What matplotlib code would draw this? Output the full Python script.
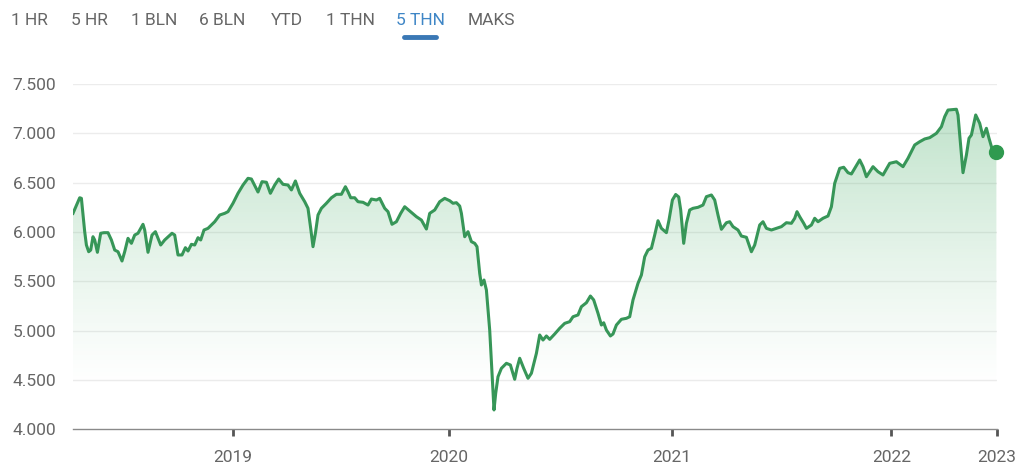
"""IDX composite, 5-year view - Google-style line chart with gradient fill."""
import matplotlib
matplotlib.use('Agg')
import matplotlib.pyplot as plt
import numpy as np
from matplotlib.colors import LinearSegmentedColormap
from matplotlib.ticker import FuncFormatter

plt.rcParams['font.family'] = ['Roboto', 'DejaVu Sans']

# Range tabs at the top
tabs = ['1 HR', '5 HR', '1 BLN', '6 BLN', 'YTD', '1 THN', '5 THN', 'MAKS']
tab_centers = [29, 89, 154.5, 222, 287, 350, 420, 491]
active_tab = '5 THN'

# Position along the time axis and index value
pos = [73.3, 80, 81.7, 85, 86.7, 89, 91, 93.3, 95, 97.7, 101, 104.3, 108.3, 111.7, 115,
       118.3, 122.3, 125, 128.3, 131.7, 135, 138.3, 143.3, 145, 148.3, 152.3, 155.7, 161,
       165, 172.3, 175, 178.3, 182.3, 185.7, 188.3, 191.7, 195, 198.3, 201, 204.3, 208.3,
       215, 220, 225, 228.3, 233.3, 238.3, 243.3, 248.3, 251.7, 258.3, 262.3, 266.7, 270.7,
       275, 279, 283.3, 288.3, 291.7, 295.7, 300, 305, 308.3, 311, 313.3, 315.7, 318.3,
       321.7, 326.7, 331.7, 336.7, 341.7, 345.7, 348.3, 351, 355, 358.3, 363.3, 368.3,
       371.7, 376.7, 380, 385, 388.3, 392.3, 396.7, 401, 405, 410, 416.7, 421.7, 426.7,
       430, 435, 440, 445, 450, 453.3, 456.7, 460, 461.7, 465, 468.3, 471.7, 475, 477.3,
       480, 481.7, 484.3, 486.7, 490, 492.7, 494.3, 496, 498.3, 501.7, 506.7, 510.7, 515,
       517.3, 520, 524, 528.3, 531.7, 536.7, 540, 543.3, 546.7, 550, 555, 560, 565, 570,
       573.3, 578.3, 581.7, 586.7, 590.7, 594, 598.3, 601.7, 604, 606.7, 610.7, 613.3,
       616.7, 621.7, 626.7, 630, 633.3, 638.3, 641.7, 645, 648.3, 651.7, 655, 658.3, 661.7,
       666.7, 669.3, 672.7, 676, 679, 681, 684, 686.7, 690, 693.3, 698.3, 703.3, 706.7,
       711.7, 715, 718.3, 721.7, 726.7, 730, 733.3, 738.3, 741.7, 746.7, 751.7, 755, 760,
       763.3, 766.7, 771.7, 776.7, 781.7, 786.7, 791.7, 795, 797.3, 800, 804, 806.7, 811.7,
       815, 818.3, 823.3, 828.3, 831.7, 835, 840, 844, 848.3, 851.7, 855, 860, 863.3, 866.7,
       873.3, 878.3, 883.3, 890, 896.7, 903.3, 908.3, 915, 920, 925, 930, 936.7, 941.7, 945,
       948.3, 956.7, 958.3, 961.7, 963.3, 966.7, 969.3, 971.7, 976, 980, 983.3, 986.7,
       989.3, 992.7, 996.7]
value = [6189, 6347, 6341, 6003, 5868, 5800, 5817, 5952, 5919, 5794, 5987, 5993, 5993, 5919,
         5817, 5800, 5706, 5800, 5936, 5885, 5969, 5987, 6078, 6020, 5794, 5969, 6003, 5868,
         5919, 5987, 5969, 5767, 5767, 5841, 5807, 5875, 5868, 5942, 5919, 6020, 6037, 6104,
         6172, 6189, 6206, 6291, 6392, 6476, 6544, 6537, 6405, 6510, 6504, 6392, 6476, 6537,
         6483, 6476, 6426, 6517, 6392, 6307, 6240, 6037, 5851, 5987, 6172, 6240, 6291, 6347,
         6382, 6382, 6459, 6408, 6347, 6347, 6307, 6301, 6273, 6334, 6324, 6341, 6240, 6206,
         6078, 6104, 6189, 6256, 6213, 6155, 6121, 6030, 6189, 6223, 6307, 6341, 6317, 6291,
         6297, 6263, 6189, 5952, 6003, 5902, 5885, 5851, 5581, 5463, 5513, 5412, 5006, 4500,
         4196, 4365, 4533, 4618, 4669, 4652, 4507, 4618, 4720, 4618, 4517, 4568, 4770, 4956,
         4905, 4946, 4912, 4966, 5024, 5074, 5091, 5141, 5159, 5243, 5283, 5351, 5311, 5176,
         5057, 5080, 5006, 4946, 4966, 5057, 5115, 5125, 5141, 5311, 5480, 5564, 5749, 5817,
         5835, 5969, 6114, 6037, 5993, 6121, 6324, 6380, 6355, 6223, 5885, 6088, 6223, 6240,
         6250, 6273, 6358, 6375, 6324, 6172, 6027, 6094, 6104, 6054, 6020, 5959, 5946, 5800,
         5868, 6071, 6104, 6037, 6020, 6037, 6054, 6094, 6088, 6139, 6206, 6155, 6088, 6037,
         6071, 6139, 6104, 6139, 6162, 6256, 6493, 6645, 6656, 6601, 6588, 6645, 6730, 6662,
         6560, 6662, 6611, 6578, 6696, 6712, 6662, 6747, 6882, 6915, 6943, 6956, 7000, 7067,
         7169, 7236, 7244, 7186, 6780, 6601, 6780, 6950, 6983, 7186, 7102, 6966, 7051, 6950,
         6831, 6814]

year_pos = [233.3, 449, 672, 891.7, 997.3]
year_labels = ['2019', '2020', '2021', '2022', '2023']
y_ticks = [4000, 4500, 5000, 5500, 6000, 6500, 7000, 7500]

LINE = '#379658'
GRID = '#ececec'
TEXT = '#666666'

x = np.array(pos)
y = np.array(value)

fig = plt.figure(figsize=(10.19, 4.69), dpi=100)
ax = fig.add_axes([73 / 1019, 1 - 429.3 / 469, 924 / 1019, (429.3 - 84) / 469])
ax.set_xlim(x[0], x[-1])
ax.set_ylim(4000, 7500)

# gradient under the line
cmap = LinearSegmentedColormap.from_list('g', [(0.30, 0.69, 0.42, 0.0), (0.30, 0.69, 0.42, 0.36)])
grad = np.linspace(0, 1, 256).reshape(-1, 1) ** 1.2
img = ax.imshow(grad, extent=[x[0], x[-1], 4400, 7300], origin='lower', cmap=cmap,
                aspect='auto', zorder=1, interpolation='bilinear')
poly = ax.fill_between(x, y, 4000, facecolor='none', edgecolor='none')
img.set_clip_path(poly.get_paths()[0], transform=ax.transData)

ax.plot(x, y, color=LINE, lw=2.2, zorder=3, solid_joinstyle='round')
ax.plot(x[-1], y[-1], 'o', color='#2f9a4f', ms=10, zorder=4, clip_on=False)

# grid, axis
for t in y_ticks[1:]:
    ax.axhline(t, color=GRID, lw=1, zorder=0)
for s in ['top', 'right', 'left']:
    ax.spines[s].set_visible(False)
ax.spines['bottom'].set_color('#8a8a8a')
ax.spines['bottom'].set_linewidth(1.0)

ax.set_yticks(y_ticks)
ax.yaxis.set_major_formatter(FuncFormatter(lambda v, p: f'{int(v):,}'.replace(',', '.')))
ax.tick_params(axis='y', length=0, pad=12, labelsize=12.5, labelcolor=TEXT)
ax.set_xticks(year_pos)
ax.set_xticklabels(year_labels)
ax.tick_params(axis='x', length=5, width=2, color='#555555', direction='out', pad=10,
               labelsize=12.5, labelcolor=TEXT)

# range tabs
for name, cx in zip(tabs, tab_centers):
    active = name == active_tab
    fig.text(cx / 1019, 1 - 20.5 / 469, name, ha='center', va='center', fontsize=12.5,
             color='#3f86c6' if active else TEXT)
ax_u = fig.add_axes([0, 0, 1, 1], facecolor='none')
ax_u.set_axis_off()
ax_u.set_xlim(0, 1019)
ax_u.set_ylim(469, 0)
ax_u.plot([404, 436], [37, 37], color='#3a78b5', lw=3.5, solid_capstyle='round')

fig.savefig('out.png', dpi=100, facecolor='white')
plt.close(fig)
